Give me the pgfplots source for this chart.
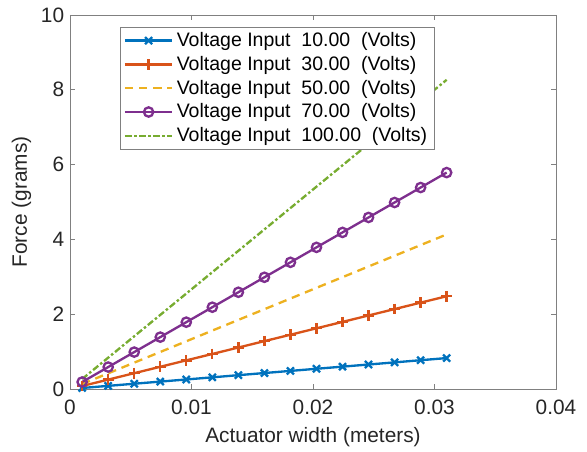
\documentclass[border=0pt]{standalone}
\usepackage{fontspec}
\setmainfont{Liberation Sans}
\usepackage{pgfplots}
\pgfplotsset{compat=1.18}

\definecolor{mblue}{rgb}{0,0.447,0.741}
\definecolor{mred}{rgb}{0.85,0.325,0.098}
\definecolor{myellow}{rgb}{0.929,0.694,0.125}
\definecolor{mpurple}{rgb}{0.494,0.184,0.556}
\definecolor{mgreen}{rgb}{0.466,0.674,0.188}
\definecolor{axgray}{gray}{0.5}
\definecolor{txtgray}{gray}{0.15}

% force vs. actuator width, one table per input voltage
\pgfplotstableread{
x y
0.001    0.027
0.003143 0.084
0.005286 0.141
0.007429 0.198
0.009571 0.255
0.011714 0.312
0.013857 0.370
0.016    0.427
0.018143 0.484
0.020286 0.541
0.022429 0.598
0.024571 0.655
0.026714 0.712
0.028857 0.770
0.031    0.827
}\vten
\pgfplotstableread{
x y
0.001    0.080
0.003143 0.251
0.005286 0.423
0.007429 0.594
0.009571 0.766
0.011714 0.937
0.013857 1.109
0.016    1.280
0.018143 1.451
0.020286 1.623
0.022429 1.794
0.024571 1.966
0.026714 2.137
0.028857 2.309
0.031    2.480
}\vthirty
\pgfplotstableread{
x y
0.001    0.133
0.003143 0.419
0.005286 0.705
0.007429 0.990
0.009571 1.276
0.011714 1.562
0.013857 1.848
0.016    2.133
0.018143 2.419
0.020286 2.705
0.022429 2.990
0.024571 3.276
0.026714 3.562
0.028857 3.848
0.031    4.133
}\vfifty
\pgfplotstableread{
x y
0.001    0.187
0.003143 0.587
0.005286 0.987
0.007429 1.387
0.009571 1.787
0.011714 2.187
0.013857 2.587
0.016    2.987
0.018143 3.387
0.020286 3.787
0.022429 4.187
0.024571 4.587
0.026714 4.987
0.028857 5.387
0.031    5.787
}\vseventy
\pgfplotstableread{
x y
0.001    0.267
0.003143 0.838
0.005286 1.410
0.007429 1.981
0.009571 2.552
0.011714 3.124
0.013857 3.695
0.016    4.267
0.018143 4.838
0.020286 5.410
0.022429 5.981
0.024571 6.552
0.026714 7.124
0.028857 7.695
0.031    8.267
}\vhundred

\begin{document}
\begin{tikzpicture}
\begin{axis}[
    width=291.6pt, height=224.4pt,
    scale only axis,
    xmin=0, xmax=0.04, ymin=0, ymax=10,
    xtick={0,0.01,0.02,0.03,0.04},
    ytick={0,2,4,6,8,10},
    xticklabels={0,0.01,0.02,0.03,0.04},
    /pgf/number format/assume math mode=true,
    scaled x ticks=false,
    tick align=inside,
    major tick length=3pt,
    axis line style={axgray, line width=0.5pt},
    tick style={axgray, line width=0.5pt},
    every tick label/.append style={font=\fontsize{12.5}{14}\selectfont, text=txtgray},
    xticklabel style={yshift=-3pt},
    label style={font=\fontsize{12.5}{14}\selectfont, text=txtgray},
    xlabel={Actuator width (meters)},
    ylabel={Force (grams)},
    ylabel style={yshift=-1pt},
    xlabel style={yshift=-1pt},
    legend style={at={(0.103,0.968)}, anchor=north west, draw=axgray,
        fill=white, font=\fontsize{11.7}{13.5}\selectfont, row sep=0.3pt,
        inner xsep=2pt, inner ysep=1pt},
    legend cell align=left,
    legend image code/.code={%
        \draw[mark repeat=2,mark phase=2] plot coordinates {(0cm,0cm) (0.5cm,0cm) (1cm,0cm)};},
    legend image post style={line width=1.4pt},
    every axis plot/.append style={line width=1.4pt},
]
\addplot[mblue, mark=x, mark size=3pt, mark options={solid}] table {\vten};
\addlegendentry{Voltage Input~~10.00~~(Volts)}
\addplot[mred, mark=+, mark size=3.2pt, mark options={solid}] table {\vthirty};
\addlegendentry{Voltage Input~~30.00~~(Volts)}
\addplot[myellow, dash pattern=on 5pt off 3.5pt] table {\vfifty};
\addlegendentry{Voltage Input~~50.00~~(Volts)}
\addplot[mpurple, mark=o, mark size=2.8pt, mark options={solid}] table {\vseventy};
\addlegendentry{Voltage Input~~70.00~~(Volts)}
\addplot[mgreen, dash pattern=on 4pt off 1.5pt on 1.5pt off 1.5pt] table {\vhundred};
\addlegendentry{Voltage Input~~100.00~~(Volts)}
\end{axis}
\path (current axis.south west) ++(-42pt,-37.2pt) coordinate (bbA);
\path (current axis.north east) ++(18.6pt,9pt) coordinate (bbB);
\pgfresetboundingbox
\path[use as bounding box] (bbA) rectangle (bbB);
\end{tikzpicture}
\end{document}
